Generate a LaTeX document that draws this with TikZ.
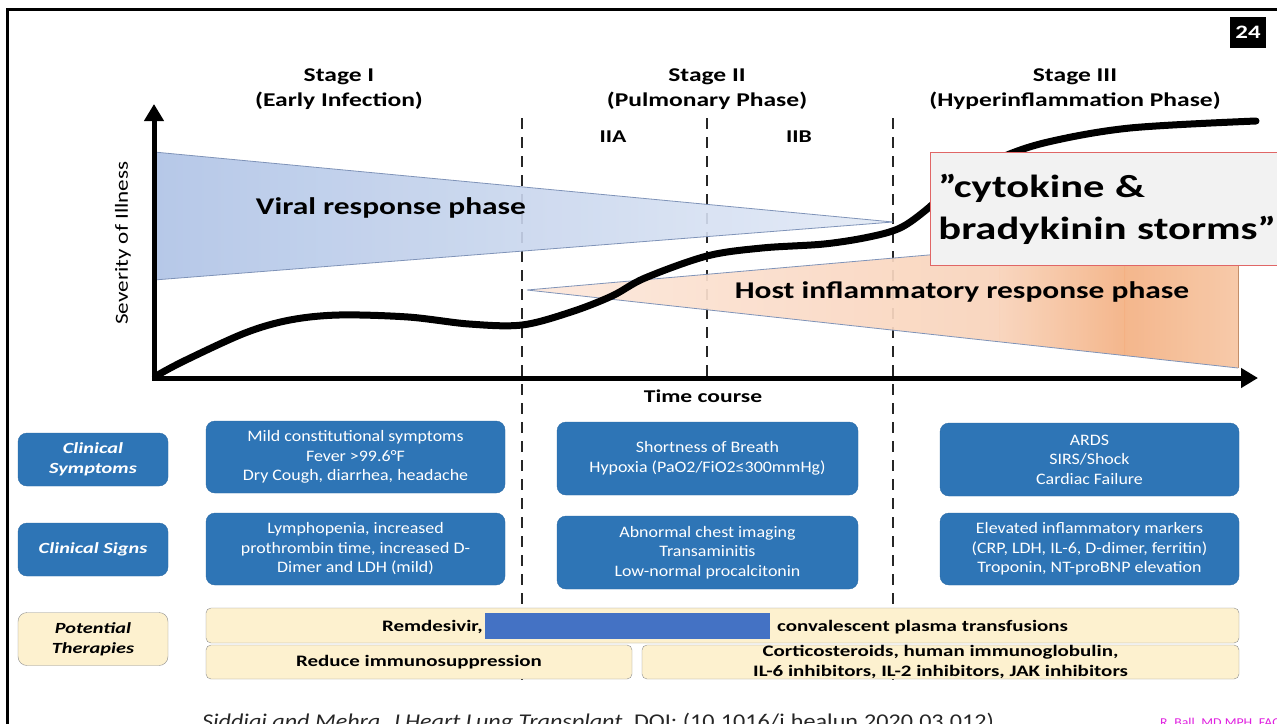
\documentclass[tikz,border=0pt]{standalone}
\usepackage{fontspec}
\setmainfont{Carlito}
\newfontfamily\fxA[FakeStretch=1.31]{Carlito}
\newfontfamily\fxB[FakeStretch=1.12]{Carlito}
\newfontfamily\fxC[FakeStretch=1.33]{Carlito}
\newfontfamily\fxS[FakeStretch=1.25]{Carlito}
\newfontfamily\fxD[FakeStretch=1.15]{Carlito}
\usetikzlibrary{arrows.meta}
\definecolor{boxblue}{HTML}{2E75B6}
\definecolor{boxblueb}{HTML}{2A6AA6}
\definecolor{remblue}{HTML}{4472C4}
\definecolor{cream}{HTML}{FDF1CF}
\definecolor{creamb}{HTML}{8F8F8F}
\definecolor{wblueL}{HTML}{AFC3E6}
\definecolor{wblueR}{HTML}{E3EAF6}
\definecolor{wbluebd}{HTML}{7F93B8}
\definecolor{or1}{HTML}{FCE8DC}
\definecolor{or2}{HTML}{F9D3BA}
\definecolor{or3}{HTML}{F4B183}
\definecolor{or4}{HTML}{F7C6A3}
\definecolor{callred}{HTML}{E06666}
\definecolor{callfill}{HTML}{F2F2F2}
\definecolor{signmag}{HTML}{E020E0}
\tikzset{
  bluebox/.style={fill=boxblue, draw=boxblueb, rounded corners=9pt, text=white, align=center, inner sep=0pt,
    font=\fxB\fontsize{16}{19.5}\selectfont},
  labbox/.style={fill=boxblue, draw=boxblueb, rounded corners=9pt, text=white, align=center, inner sep=0pt,
    font=\fxA\fontsize{15.5}{20}\selectfont\bfseries\itshape, minimum width=150pt, minimum height=53pt},
  therbox/.style={fill=cream, draw=creamb, rounded corners=5pt, align=center, inner sep=0pt,
    font=\fxA\fontsize{16}{20}\selectfont\bfseries},
  thertext/.style={inner sep=0pt, font=\fxA\fontsize{16}{20}\selectfont\bfseries},
  stagelbl/.style={align=center, font=\fxA\fontsize{19.5}{25}\selectfont\bfseries},
  sublbl/.style={font=\fxA\fontsize{18}{20}\selectfont\bfseries},
  phaselbl/.style={font=\fxA\fontsize{24}{28}\selectfont\bfseries},
  stagedash/.style={line width=2.5pt, dash pattern=on 11pt off 8pt, black!85},
  axisline/.style={line width=5pt, -{Triangle[length=17pt,width=19pt]}},
}
\begin{document}
\begin{tikzpicture}[x=1pt,y=-1pt]
\useasboundingbox (0,0) rectangle (1277,723);
\fill[white] (0,0) rectangle (1277,723);
% frame
\draw[line width=3pt] (7,740) -- (7,9) -- (1300,9);
\node[fill=black, text=white, font=\fxA\fontsize{19}{22}\selectfont\bfseries, minimum width=36pt, minimum height=31pt, inner sep=0pt] (badge) at (1248,32) {24};

% dashed stage separators
\draw[stagedash] (522,118) -- (522,685);
\draw[stagedash] (707,118) -- (707,378);
\draw[stagedash] (893,118) -- (893,685);

% blue wedge
\shade[left color=wblueL, right color=wblueR, opacity=0.9] (154,152) -- (893,222) -- (154,280) -- cycle;
\draw[wbluebd, line width=0.8pt] (154,152) -- (893,222) -- (154,280);
% orange wedge
\begin{scope}
\clip (527,290) -- (1238,228) -- (1238,368) -- cycle;
\shade[left color=or1, right color=or2, opacity=0.92] (526,220) rectangle (1000,370);
\shade[left color=or2, right color=or3, opacity=0.92] (999.5,220) rectangle (1125,370);
\shade[left color=or3, right color=or4, opacity=0.92] (1124.5,220) rectangle (1239,370);
\end{scope}
\draw[wbluebd, line width=0.8pt] (1238,228) -- (527,290) -- (1238,368);
\draw[or3!80!black, line width=0.6pt] (1238,228) -- (1238,368);

% severity curve
\draw[line width=7pt, line cap=round] plot[smooth, tension=0.55] coordinates {(156,376) (184,361) (245,333) (290,320) (339,315) (408,317) (469,324) (522,325) (571,312) (612,296) (645,278) (707,256) (762,248) (824,244) (869,237) (900,228) (926,210) (960,180) (1000,158) (1048,142) (1130,128) (1256,121)};

% axes
\coordinate (O) at (154,378);
\coordinate (ytip) at (154,104);
\coordinate (xtip) at (1258,378);
\draw[axisline] ([yshift=2.5pt]O) -- (ytip);
\draw[axisline] ([xshift=-2.5pt]O) -- (xtip);

% labels
\node[rotate=90, font=\fxS\fontsize{18.5}{20}\selectfont] (sev) at (123,243) {Severity of Illness};
\node[font=\fxA\fontsize{18}{20}\selectfont\bfseries] (time) at (703,396) {Time course};
\node[stagelbl] (st1) at (339,89) {Stage I\\(Early Infection)};
\node[stagelbl] (st2) at (707,89) {Stage II\\(Pulmonary Phase)};
\node[stagelbl] (st3) at (1075,89) {Stage III\\(Hyperinflammation Phase)};
\node[sublbl] (iia) at (613,137) {IIA};
\node[sublbl] (iib) at (799,137) {IIB};
\node[phaselbl] (viral) at (391,208) {Viral response phase};
\node[phaselbl] (host) at (962,292) {Host inflammatory response phase};

% callout
\node[anchor=north west, draw=callred, line width=0.8pt, fill=callfill, minimum height=113pt, text width=345pt,
  inner xsep=8pt, inner ysep=0pt, align=left, font=\fxC\fontsize{32}{42}\selectfont\bfseries] (storm) at (930,152)
  {”cytokine \&\\bradykinin storms”};

% row labels
\node[labbox] (lsym) at (93,459.5) {Clinical\\Symptoms};
\node[labbox] (lsig) at (93,549.5) {Clinical Signs};
\node[labbox, fill=cream, draw=creamb, text=black] (lther) at (93,639) {Potential\\Therapies};

% symptom / sign boxes
\node[bluebox, minimum width=299pt, minimum height=72pt] (s1) at (355.5,457) {Mild constitutional symptoms\\Fever >99.6°F\\Dry Cough, diarrhea, headache};
\node[bluebox, minimum width=299pt, minimum height=72pt] (g1) at (355.5,549) {Lymphopenia, increased\\prothrombin time, increased D-\\Dimer and LDH (mild)};
\node[bluebox, minimum width=301pt, minimum height=73pt] (s2) at (707.5,458.5) {Shortness of Breath\\Hypoxia (PaO2/FiO2≤300mmHg)};
\node[bluebox, minimum width=301pt, minimum height=73pt] (g2) at (707.5,552.5) {Abnormal chest imaging\\Transaminitis\\Low-normal procalcitonin};
\node[bluebox, minimum width=299pt, minimum height=73pt] (s3) at (1089.5,459.5) {ARDS\\SIRS/Shock\\Cardiac Failure};
\node[bluebox, minimum width=299pt, minimum height=72pt] (g3) at (1089.5,549) {Elevated inflammatory markers\\(CRP, LDH, IL-6, D-dimer, ferritin)\\Troponin, NT-proBNP elevation};

% therapies
\node[therbox, minimum width=1033pt, minimum height=35pt] (t1) at (722.5,625.5) {};
\node[fill=remblue, minimum width=285pt, minimum height=26pt, inner sep=0pt] (hide) at (627.5,626) {};
\node[thertext, anchor=east] (rem) at (483,627) {Remdesivir,};
\node[thertext, anchor=west] (conv) at (777,627) {convalescent plasma transfusions};
\node[therbox, minimum width=426pt, minimum height=34pt] (t2) at (419,662) {Reduce immunosuppression};
\node[therbox, minimum width=597pt, minimum height=34pt, font=\fxA\fontsize{16}{19.5}\selectfont\bfseries] (t3) at (940.5,662) {Corticosteroids, human immunoglobulin,\\IL-6 inhibitors, IL-2 inhibitors, JAK inhibitors};

% citation (cut off at the bottom edge, as in the slide)
\node[anchor=base west, inner sep=0pt, font=\fxD\fontsize{21}{24}\selectfont, text=black!85] (cite) at (202,728) {\textit{Siddiqi and Mehra, J Heart Lung Transplant,} DOI: (10.1016/j.healun.2020.03.012)};
\node[anchor=base west, inner sep=0pt, font=\fxD\fontsize{12}{14}\selectfont, text=signmag] (sign) at (1160,726) {R. Ball, MD MPH, FACP};
\end{tikzpicture}
\end{document}
